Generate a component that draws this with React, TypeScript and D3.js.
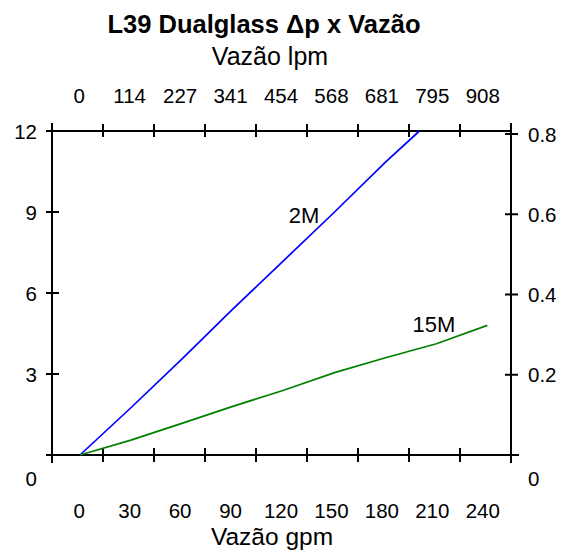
import * as d3 from "d3";
import { useEffect, useRef } from "react";

// valores
const gpmTicks = [0, 30, 60, 90, 120, 150, 180, 210, 240];
const lpmTicks = ["0", "114", "227", "341", "454", "568", "681", "795", "908"];
const psiTicks = [3, 6, 9, 12];
const barTicks = [0.2, 0.4, 0.6, 0.8];

const flow2M = [0, 30, 60, 90, 120, 150, 180, 200];
const dp2M = [0, 1.75, 3.55, 5.4, 7.2, 9.0, 10.85, 12];
const flow15M = [0, 30, 60, 90, 120, 150, 180, 210, 240];
const dp15M = [0, 0.55, 1.17, 1.8, 2.4, 3.05, 3.6, 4.12, 4.8];

const W = 561;
const H = 551;
const font = "'Liberation Sans', Arial, sans-serif";
const tickSize = 20.5;

const App = () => {
  const ref = useRef<SVGSVGElement>(null);

  useEffect(() => {
    const svg = d3.select(ref.current);
    svg.selectAll("*").remove();

    const frame = { left: 52, right: 511, top: 131, bottom: 455 };

    const x = d3.scaleLinear().domain([0, 240]).range([80, 487.3]);
    const y = d3.scaleLinear().domain([0, 12]).range([frame.bottom, frame.top]);
    const yR = d3.scaleLinear().domain([0, 0.8]).range([frame.bottom, 134]);
    // marcas da moldura e rótulos (não coincidem exatamente)
    const tickPos = d3.scaleLinear().domain([0, 9]).range([frame.left, frame.right]);
    const labelX = d3.scaleBand<number>().domain(gpmTicks).range([54, 508]);
    const labelC = (i: number) => (labelX(gpmTicks[i]) as number) + labelX.bandwidth() / 2;

    const g = svg.append("g").attr("stroke", "#000").attr("stroke-width", 2);

    // moldura
    g.append("line").attr("x1", 46).attr("x2", frame.right).attr("y1", frame.top).attr("y2", frame.top);
    g.append("line").attr("x1", 46).attr("x2", 519).attr("y1", frame.bottom).attr("y2", frame.bottom);
    g.append("line").attr("x1", frame.left).attr("x2", frame.left).attr("y1", 123).attr("y2", 463);
    g.append("line").attr("x1", frame.right).attr("x2", frame.right).attr("y1", 123).attr("y2", 463);

    const ticks = d3.range(10);
    g.selectAll(".tt").data(ticks).enter().append("line")
      .attr("x1", d => tickPos(d)).attr("x2", d => tickPos(d))
      .attr("y1", frame.top - 7).attr("y2", frame.top + 6);
    g.selectAll(".tb").data(ticks).enter().append("line")
      .attr("x1", d => tickPos(d)).attr("x2", d => tickPos(d))
      .attr("y1", frame.bottom - 7).attr("y2", frame.bottom + 7);
    g.selectAll(".tl").data(psiTicks).enter().append("line")
      .attr("x1", 46).attr("x2", 59)
      .attr("y1", d => y(d)).attr("y2", d => y(d));
    g.selectAll(".tr").data(barTicks).enter().append("line")
      .attr("x1", 505).attr("x2", 518)
      .attr("y1", d => yR(d)).attr("y2", d => yR(d));

    const txt = svg.append("g").attr("font-family", font).attr("fill", "#000");

    // rótulos
    txt.selectAll(".lb").data(gpmTicks).enter().append("text")
      .attr("x", (d, i) => labelC(i)).attr("y", 518)
      .attr("text-anchor", "middle").attr("font-size", tickSize)
      .text(d => d);
    txt.selectAll(".lt").data(lpmTicks).enter().append("text")
      .attr("x", (d, i) => labelC(i)).attr("y", 103)
      .attr("text-anchor", "middle").attr("font-size", tickSize)
      .text(d => d);
    txt.selectAll(".ll").data(psiTicks).enter().append("text")
      .attr("x", 37).attr("y", d => y(d) + 7.5)
      .attr("text-anchor", "end").attr("font-size", tickSize)
      .text(d => d);
    txt.append("text").attr("x", 37).attr("y", 486)
      .attr("text-anchor", "end").attr("font-size", tickSize).text("0");
    txt.selectAll(".lr").data(barTicks).enter().append("text")
      .attr("x", 528).attr("y", d => yR(d) + 7.5)
      .attr("font-size", tickSize)
      .text(d => d);
    txt.append("text").attr("x", 528).attr("y", 486)
      .attr("font-size", tickSize).text("0");

    // títulos
    txt.append("text").attr("x", 264).attr("y", 33)
      .attr("text-anchor", "middle").attr("font-size", 25.5).attr("font-weight", "bold")
      .text("L39 Dualglass Δp x Vazão");
    txt.append("text").attr("x", 270).attr("y", 65)
      .attr("text-anchor", "middle").attr("font-size", 25)
      .text("Vazão lpm");
    txt.append("text").attr("x", 272).attr("y", 545)
      .attr("text-anchor", "middle").attr("font-size", 24.5)
      .text("Vazão gpm");

    // curvas
    const line = d3.line<[number, number]>()
      .x(d => x(d[0]))
      .y(d => y(d[1]));

    svg.append("path")
      .datum(flow2M.map((f, i) => [f, dp2M[i]] as [number, number]))
      .attr("d", line)
      .attr("fill", "none").attr("stroke", "#0000ff").attr("stroke-width", 1.7);
    svg.append("path")
      .datum(flow15M.map((f, i) => [f, dp15M[i]] as [number, number]))
      .attr("d", line)
      .attr("fill", "none").attr("stroke", "#008000").attr("stroke-width", 1.7);

    txt.append("text").attr("x", x(132)).attr("y", y(8.6))
      .attr("text-anchor", "middle").attr("font-size", 22).text("2M");
    txt.append("text").attr("x", x(208.6)).attr("y", y(4.56))
      .attr("text-anchor", "middle").attr("font-size", 22).text("15M");
  }, []);

  return (
    <svg
      ref={ref}
      width={W}
      height={H}
      style={{ position: "absolute", left: 0, top: 0, background: "#fff" }}
    />
  );
};

export default App;
